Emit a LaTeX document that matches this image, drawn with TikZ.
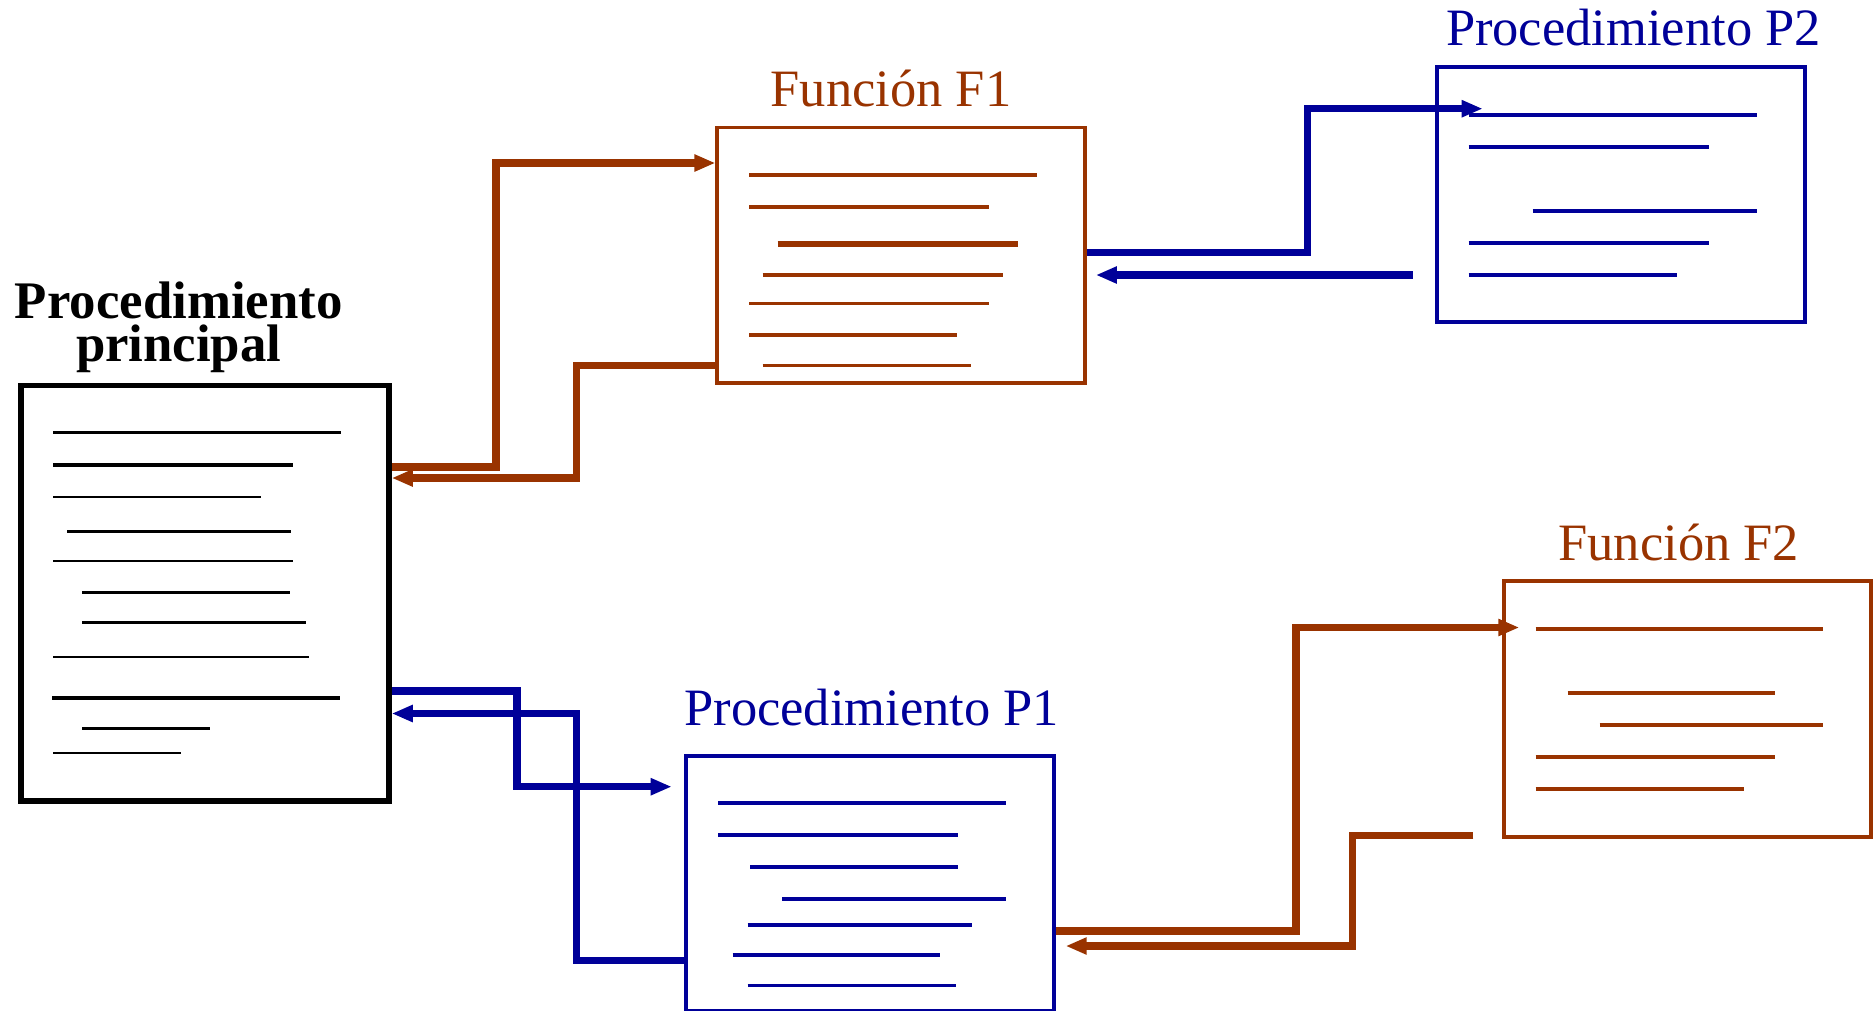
\documentclass[tikz,border=0pt]{standalone}
\usepackage{fontspec}
\setmainfont{Liberation Serif}
\usetikzlibrary{arrows.meta}
\definecolor{brownc}{RGB}{153,51,0}
\definecolor{bluec}{RGB}{0,0,153}
\tikzset{
  codebox/.style={draw, fill=white, inner sep=0pt, minimum width=368pt, minimum height=255.5pt},
  conn/.style={line width=7.3pt, line join=miter},
  tip/.style={-{Triangle[length=21pt,width=16pt]}},
  title/.style={anchor=base, inner sep=0pt, font=\fontsize{52.5}{60}\selectfont},
  codeline/.style={line width=3.6pt},
}
\begin{document}
\begin{tikzpicture}[x=1pt, y=-1pt]
\useasboundingbox (0,0) rectangle (1874,1010);
\clip (0,0) rectangle (1874,1010);

% ---------- main procedure ----------
\node[draw, line width=5.5pt, inner sep=0pt, minimum width=368pt, minimum height=415.5pt] (main) at (205,593.25) {};
\node[inner sep=0pt, anchor=south, align=center, font=\bfseries\fontsize{52.8}{43.4}\selectfont] (tMain) at (178.7,373.2) {Procedimiento\\principal};
\foreach \y/\a/\b/\w in {432.7/53.3/340.7/2.7, 465/53.3/292.7/4, 497/53.3/260.7/2.7,
    531.7/67.3/291/2.7, 561/53/292.7/2.7, 592.3/82/290.3/2.5, 622.3/82/306/2.5,
    657/53/308.7/2.7, 698.3/52/340/4, 728.3/82/210/2.5, 753/53/180.7/2.7}
  \draw[line width=\w pt] (\a,\y) -- (\b,\y);

% ---------- function F1 ----------
\node[codebox, draw=brownc, line width=3.8pt, minimum width=367.7pt] (F1) at (901.15,255.25) {};
\node[title, text=brownc] (tF1) at (891,106.7) {Función F1};
\foreach \y/\a/\b/\w in {175/749.3/1037/3.6, 206.7/749.3/989/3.6, 244.3/777.7/1017.6/6,
    275/762.7/1002.5/3.6, 303.3/749.3/989/3.6, 335/749.3/957.3/3.6, 365.3/762.7/970.7/3.6}
  \draw[brownc, line width=\w pt] (\a,\y) -- (\b,\y);

% ---------- procedure P2 ----------
\node[codebox, draw=bluec, line width=4pt] (P2) at (1621,194.6) {};
\node[title, text=bluec] (tP2) at (1633.4,45.7) {Procedimiento P2};
\foreach \y/\a/\b in {115/1468.5/1756.7, 147/1468.5/1708.7, 210.7/1532.7/1756.7,
    243/1468.5/1708.7, 275/1468.5/1676.7}
  \draw[bluec, codeline] (\a,\y) -- (\b,\y);

% ---------- procedure P1 ----------
\node[codebox, draw=bluec, line width=4pt, minimum width=367.7pt] (P1) at (870.15,883.5) {};
\node[title, text=bluec] (tP1) at (871.7,725.7) {Procedimiento P1};
\foreach \y/\a/\b/\w in {803/718.3/1006/3.6, 835/718.3/958/3.6, 867/750.3/958/3.6,
    898.7/782.3/1006/3.6, 925/747.7/971.7/4.8, 955/732.7/940.3/3.6, 985.3/747.7/955.7/3.6}
  \draw[bluec, line width=\w pt] (\a,\y) -- (\b,\y);

% ---------- function F2 ----------
\node[codebox, draw=brownc, line width=4pt, minimum width=367.3pt, minimum height=255.7pt] (F2) at (1687.35,709.15) {};
\node[title, text=brownc] (tF2) at (1678.8,560) {Función F2};
\foreach \y/\a/\b in {628.7/1535.7/1823.3, 692.7/1567.7/1775.3, 725/1599.7/1823.3,
    756.7/1535.7/1775.3, 788.7/1535.7/1743.7}
  \draw[brownc, codeline] (\a,\y) -- (\b,\y);

% ---------- free ends of the calls ----------
\coordinate (p2in)  at (1482.7,108.7);
\coordinate (p2out) at (1412.7,275);
\coordinate (f2in)  at (1519.3,627.5);
\coordinate (f2out) at (1473.3,835.3);

% ---------- calls and returns ----------
% main -> F1 and back
\draw[conn, brownc, tip] (main.east |- 0,467) -| (496,163) -- (F1.west |- 0,163);
\draw[conn, brownc, tip] (F1.west |- 0,365.5) -| (576.7,478) -- (main.east |- 0,478);
% main -> P1 and back
\draw[conn, bluec, tip, shorten >=12.6pt] (main.east |- 0,691) -| (517,786.7) -- (P1.west |- 0,786.7);
\draw[conn, bluec, tip] (P1.west |- 0,960.3) -| (576.7,713.5) -- (main.east |- 0,713.5);
% F1 -> P2 and back
\draw[conn, bluec, tip] (F1.east |- 0,252.5) -| (1307.7,108.7) -- (p2in);
\draw[conn, bluec, tip, shorten >=9pt] (p2out) -- (F1.east |- 0,275);
% P1 -> F2 and back
\draw[conn, brownc, tip] (P1.east |- 0,931) -| (1296,627.5) -- (f2in);
\draw[conn, brownc, tip, shorten >=9.7pt] (f2out) -| (1352.7,946) -- (P1.east |- 0,946);
\end{tikzpicture}
\end{document}
